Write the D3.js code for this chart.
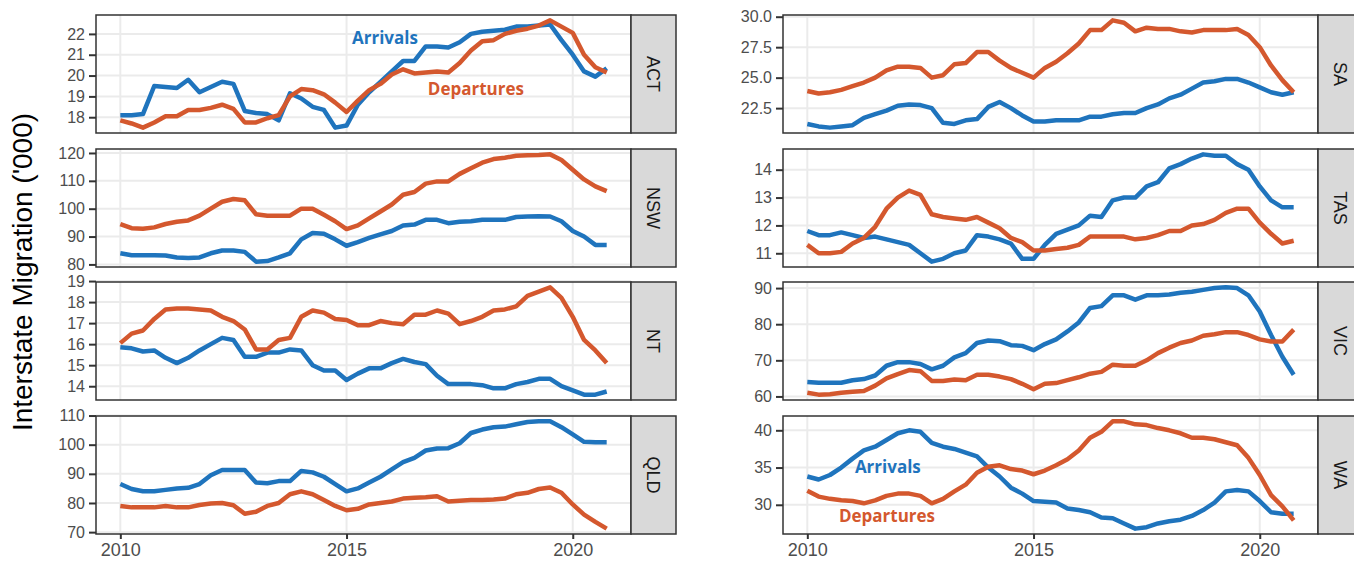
<!DOCTYPE html>
<html>
<head>
<meta charset="utf-8">
<script src="https://cdn.jsdelivr.net/npm/d3@7"></script>
<style>
  body { margin: 0; background: #fff; }
  svg { display: block; }
  text { font-family: "Liberation Sans", Arial, sans-serif; }
</style>
</head>
<body>
<svg id="chart" width="1354" height="565"></svg>
<script>
// quarterly observations, 2010 Q1 .. 2020 Q4
var quarters = d3.range(44).map(function(i){ return 2010 + i / 4; });

var actArrivals = [18.1,18.1,18.15,19.5,19.45,19.4,19.8,19.2,19.45,19.7,19.6,18.3,18.2,18.15,17.85,19.15,18.9,18.5,18.35,17.5,17.6,18.6,19.2,19.7,20.2,20.7,20.7,21.4,21.4,21.35,21.6,22.0,22.1,22.15,22.2,22.35,22.35,22.4,22.45,21.7,21.0,20.2,19.95,20.35];
var actDepartures = [17.85,17.7,17.5,17.75,18.05,18.05,18.35,18.35,18.45,18.6,18.4,17.75,17.75,17.95,18.1,19.0,19.35,19.3,19.1,18.7,18.25,18.8,19.3,19.6,20.05,20.3,20.1,20.15,20.2,20.15,20.6,21.2,21.65,21.7,22.0,22.15,22.25,22.4,22.65,22.35,22.05,21.0,20.4,20.15];

var nswArrivals = [84.0,83.3,83.3,83.3,83.2,82.5,82.3,82.5,84.0,85.0,85.0,84.5,81.0,81.2,82.5,84.0,89.0,91.3,91.0,89.0,86.7,88.0,89.5,90.8,92.0,94.0,94.3,96.0,96.0,94.8,95.3,95.5,96.0,96.0,96.0,97.0,97.2,97.3,97.2,95.5,92.0,90.0,87.0,87.0];
var nswDepartures = [94.5,93.0,92.8,93.3,94.5,95.3,95.8,97.5,100.0,102.5,103.5,103.0,98.0,97.5,97.5,97.5,100.0,100.0,97.8,95.5,92.7,94.0,96.5,99.0,101.5,105.0,106.0,109.0,109.8,109.8,112.5,114.5,116.5,117.8,118.3,119.0,119.2,119.3,119.5,117.5,114.0,110.5,108.0,106.3];

var ntArrivals = [15.85,15.8,15.65,15.7,15.35,15.1,15.35,15.7,16.0,16.3,16.2,15.4,15.4,15.6,15.6,15.75,15.7,15.0,14.75,14.75,14.3,14.6,14.85,14.85,15.1,15.3,15.15,15.05,14.5,14.1,14.1,14.1,14.05,13.9,13.9,14.1,14.2,14.35,14.35,14.0,13.8,13.6,13.6,13.75];
var ntDepartures = [16.05,16.5,16.65,17.2,17.65,17.7,17.7,17.65,17.6,17.3,17.1,16.7,15.75,15.75,16.2,16.3,17.3,17.6,17.5,17.2,17.15,16.9,16.9,17.1,17.0,16.95,17.4,17.4,17.6,17.45,16.95,17.1,17.3,17.6,17.65,17.8,18.3,18.5,18.7,18.2,17.3,16.2,15.7,15.1];

var qldArrivals = [86.5,84.8,84.0,84.0,84.5,85.0,85.2,86.5,89.5,91.3,91.3,91.3,87.0,86.8,87.5,87.5,91.0,90.5,89.0,86.5,84.0,85.0,87.0,89.0,91.5,94.0,95.5,98.0,98.7,98.8,100.5,104.0,105.2,106.0,106.2,107.0,107.8,108.0,108.0,106.0,103.5,101.0,100.8,100.8];
var qldDepartures = [79.0,78.5,78.5,78.5,79.0,78.5,78.5,79.3,79.8,80.0,79.2,76.3,77.0,79.0,80.0,83.0,84.0,83.0,81.0,79.0,77.5,78.0,79.5,80.0,80.5,81.5,81.8,82.0,82.3,80.5,80.8,81.0,81.0,81.2,81.5,83.0,83.5,84.8,85.3,83.5,79.5,76.0,73.5,71.2];

var saArrivals = [21.2,21.0,20.9,21.0,21.1,21.7,22.0,22.3,22.7,22.8,22.75,22.5,21.3,21.2,21.5,21.6,22.6,23.0,22.5,21.9,21.4,21.4,21.5,21.5,21.5,21.8,21.8,22.0,22.1,22.1,22.5,22.8,23.3,23.6,24.1,24.6,24.7,24.9,24.9,24.6,24.2,23.8,23.6,23.8];
var saDepartures = [23.9,23.7,23.8,24.0,24.3,24.6,25.0,25.6,25.9,25.9,25.8,25.0,25.2,26.1,26.2,27.1,27.1,26.4,25.8,25.4,25.0,25.8,26.3,27.0,27.8,28.9,28.9,29.7,29.5,28.8,29.1,29.0,29.0,28.8,28.7,28.9,28.9,28.9,29.0,28.5,27.5,26.0,24.8,23.8];

var tasArrivals = [11.8,11.65,11.65,11.75,11.65,11.55,11.6,11.5,11.4,11.3,11.0,10.7,10.8,11.0,11.1,11.65,11.6,11.5,11.35,10.8,10.8,11.3,11.7,11.85,12.0,12.35,12.3,12.9,13.0,13.0,13.4,13.55,14.05,14.2,14.4,14.55,14.5,14.5,14.2,14.0,13.4,12.9,12.65,12.65];
var tasDepartures = [11.3,11.0,11.0,11.05,11.35,11.55,11.95,12.6,13.0,13.25,13.1,12.4,12.3,12.25,12.2,12.3,12.1,11.9,11.55,11.4,11.1,11.1,11.15,11.2,11.3,11.6,11.6,11.6,11.6,11.5,11.55,11.65,11.8,11.8,12.0,12.05,12.2,12.45,12.6,12.6,12.1,11.7,11.35,11.45];

var vicArrivals = [64.0,63.8,63.8,63.8,64.5,64.8,65.8,68.5,69.5,69.5,69.0,67.5,68.5,70.8,72.0,74.8,75.5,75.3,74.2,74.0,72.8,74.5,75.8,78.0,80.5,84.5,85.0,88.0,88.0,86.8,88.0,88.0,88.2,88.7,89.0,89.5,90.0,90.2,90.0,88.0,83.5,77.0,71.0,66.0];
var vicDepartures = [61.0,60.5,60.6,61.0,61.3,61.5,63.0,65.0,66.2,67.3,67.0,64.3,64.3,64.7,64.5,66.0,66.0,65.5,64.8,63.5,62.0,63.5,63.7,64.5,65.3,66.3,66.8,68.8,68.5,68.5,70.0,72.0,73.5,74.8,75.5,76.8,77.2,77.8,77.8,77.0,75.8,75.2,75.2,78.5];

var waArrivals = [33.8,33.4,34.0,35.0,36.2,37.3,37.8,38.7,39.6,40.0,39.8,38.3,37.8,37.5,37.0,36.5,35.0,33.8,32.3,31.5,30.5,30.4,30.3,29.5,29.3,29.0,28.3,28.2,27.5,26.8,27.0,27.5,27.8,28.0,28.5,29.3,30.3,31.8,32.0,31.8,30.5,29.0,28.8,28.8];
var waDepartures = [31.9,31.1,30.8,30.6,30.5,30.2,30.6,31.2,31.5,31.5,31.2,30.2,30.8,31.8,32.7,34.3,35.1,35.3,34.8,34.6,34.1,34.6,35.3,36.1,37.3,39.0,39.8,41.2,41.2,40.8,40.7,40.3,40.0,39.6,39.0,39.0,38.8,38.4,38.0,36.3,34.0,31.3,29.8,27.9];

var xTicks = [2010, 2015, 2020];
var actTicks = [18, 19, 20, 21, 22];
var nswTicks = [80, 90, 100, 110, 120];
var ntTicks = [14, 15, 16, 17, 18, 19];
var qldTicks = [70, 80, 90, 100, 110];
var saTicks = [22.5, 25, 27.5, 30];
var tasTicks = [11, 12, 13, 14];
var vicTicks = [60, 70, 80, 90];
var waTicks = [30, 35, 40];

var panels = [
  {name: "ACT", arr: actArrivals, dep: actDepartures, ticks: actTicks, fmt: "d", col: 0, row: 0},
  {name: "NSW", arr: nswArrivals, dep: nswDepartures, ticks: nswTicks, fmt: "d", col: 0, row: 1},
  {name: "NT",  arr: ntArrivals,  dep: ntDepartures,  ticks: ntTicks,  fmt: "d", col: 0, row: 2},
  {name: "QLD", arr: qldArrivals, dep: qldDepartures, ticks: qldTicks, fmt: "d", col: 0, row: 3},
  {name: "SA",  arr: saArrivals,  dep: saDepartures,  ticks: saTicks,  fmt: ".1f", col: 1, row: 0},
  {name: "TAS", arr: tasArrivals, dep: tasDepartures, ticks: tasTicks, fmt: "d", col: 1, row: 1},
  {name: "VIC", arr: vicArrivals, dep: vicDepartures, ticks: vicTicks, fmt: "d", col: 1, row: 2},
  {name: "WA",  arr: waArrivals,  dep: waDepartures,  ticks: waTicks,  fmt: "d", col: 1, row: 3}
];

// labels written on the panels
var notes = [
  {panel: "ACT", text: "Arrivals",   x: 2015.85, y: 21.8,  series: "arr"},
  {panel: "ACT", text: "Departures", x: 2017.86, y: 19.37, series: "dep"},
  {panel: "WA",  text: "Arrivals",   x: 2011.78, y: 35.07, series: "arr"},
  {panel: "WA",  text: "Departures", x: 2011.76, y: 28.5,  series: "dep"}
];

var colors = {arr: "#1f74bd", dep: "#d4582e"};

var colX = [96, 783], plotW = 535, stripW = 45;
var rowY = [15, 149, 282, 416], plotH = 118;
var tickFont = "16px";

var svg = d3.select("#chart");

// padded domain like ggplot's default expansion
function expand(ext){
  var pad = (ext[1] - ext[0]) * 0.05;
  return [ext[0] - pad, ext[1] + pad];
}

var xDomain = expand([quarters[0], quarters[quarters.length - 1]]);

panels.forEach(function(p){
  var x0 = colX[p.col], y0 = rowY[p.row];
  var g = svg.append("g").attr("transform", "translate(" + x0 + "," + y0 + ")");

  var x = d3.scaleLinear().domain(xDomain).range([0, plotW]);
  var y = d3.scaleLinear()
      .domain(expand(d3.extent(p.arr.concat(p.dep))))
      .range([plotH, 0]);
  p.x = x; p.y = y; p.g = g;

  // grid
  g.selectAll(".hg").data(p.ticks).enter().append("line")
      .attr("x1", 0).attr("x2", plotW)
      .attr("y1", function(d){ return y(d); }).attr("y2", function(d){ return y(d); })
      .attr("stroke", "#ebebeb").attr("stroke-width", 2);
  g.selectAll(".vg").data(xTicks).enter().append("line")
      .attr("y1", 0).attr("y2", plotH)
      .attr("x1", function(d){ return x(d); }).attr("x2", function(d){ return x(d); })
      .attr("stroke", "#ebebeb").attr("stroke-width", 2);

  // lines
  var line = d3.line()
      .x(function(d, i){ return x(quarters[i]); })
      .y(function(d){ return y(d); });
  ["arr", "dep"].forEach(function(s){
    g.append("path")
        .datum(p[s])
        .attr("d", line)
        .attr("fill", "none")
        .attr("stroke", colors[s])
        .attr("stroke-width", 4.5)
        .attr("stroke-linejoin", "round");
  });

  // panel border
  g.append("rect").attr("width", plotW).attr("height", plotH)
      .attr("fill", "none").attr("stroke", "#333").attr("stroke-width", 1.5);

  // y axis
  var ya = g.append("g").call(d3.axisLeft(y).tickValues(p.ticks)
      .tickFormat(d3.format(p.fmt)).tickSize(7).tickPadding(4));
  ya.select(".domain").remove();
  ya.selectAll("line").attr("stroke", "#333").attr("stroke-width", 2);
  ya.selectAll("text").attr("fill", "#4d4d4d").style("font-size", tickFont)
      .style("font-family", "'Liberation Sans', Arial, sans-serif");

  // strip
  g.append("rect").attr("x", plotW).attr("width", stripW).attr("height", plotH)
      .attr("fill", "#d9d9d9").attr("stroke", "#333").attr("stroke-width", 1.5);
  g.append("text")
      .attr("transform", "translate(" + (plotW + stripW / 2) + "," + (plotH / 2) + ") rotate(90)")
      .attr("text-anchor", "middle").attr("dy", "0.35em")
      .attr("fill", "#1a1a1a").style("font-size", "18px")
      .text(p.name);

  // x axis on the bottom row
  if (p.row === 3) {
    var xa = g.append("g").attr("transform", "translate(0," + plotH + ")")
        .call(d3.axisBottom(x).tickValues(xTicks).tickFormat(d3.format("d"))
        .tickSize(5).tickPadding(4));
    xa.select(".domain").remove();
    xa.selectAll("line").attr("stroke", "#333").attr("stroke-width", 2);
    xa.selectAll("text").attr("fill", "#4d4d4d").style("font-size", "18px")
        .style("font-family", "'Liberation Sans', Arial, sans-serif");
  }
});

// annotations
notes.forEach(function(n){
  var p = panels.filter(function(d){ return d.name === n.panel; })[0];
  p.g.append("text")
      .attr("x", p.x(n.x)).attr("y", p.y(n.y))
      .attr("text-anchor", "middle").attr("dy", "0.35em")
      .attr("fill", colors[n.series])
      .style("font-family", "'Open Sans', sans-serif")
      .style("font-weight", "bold").style("font-size", "17px")
      .text(n.text);
});

// y title
svg.append("text")
    .attr("transform", "translate(22,272) rotate(-90)")
    .attr("text-anchor", "middle").attr("dy", "0.35em")
    .attr("fill", "#000").style("font-size", "28px")
    .text("Interstate Migration ('000)");
</script>
</body>
</html>
